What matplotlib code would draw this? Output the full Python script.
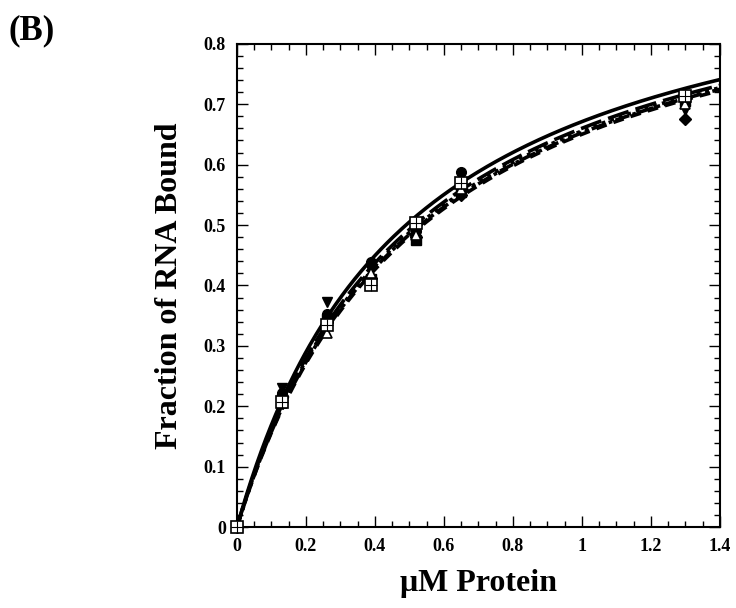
import matplotlib
matplotlib.use('Agg')
import matplotlib.pyplot as plt
from matplotlib.ticker import MultipleLocator
import numpy as np

plt.rcParams['font.family'] = ['Liberation Serif', 'DejaVu Serif']
plt.rcParams['font.weight'] = 'bold'

# protein concentration (uM)
conc = [0, 0.13, 0.26, 0.39, 0.52, 0.65, 1.3]

# fraction of RNA bound, one list per data set
circ = [0, 0.222, 0.352, 0.438, 0.490, 0.587, 0.710]
tri_dn = [0, 0.230, 0.373, 0.425, 0.495, 0.560, 0.690]
sq_cross = [0, 0.207, 0.335, 0.400, 0.504, 0.570, 0.713]
diam = [0, 0.215, 0.340, 0.413, 0.480, 0.550, 0.675]
tri_up = [0, 0.205, 0.322, 0.420, 0.484, 0.560, 0.700]
sq = [0, 0.212, 0.345, 0.410, 0.476, 0.555, 0.705]

# hyperbolic fit parameters (Bmax, Kd) for each curve
bmax = [1.0, 1.0, 1.0, 1.0, 1.0]
kd = [0.49, 0.515, 0.525, 0.532, 0.538]
styles = ['-', (0, (6, 2)), (0, (1, 1.5)), (0, (4, 1, 1, 1)), (0, (3, 2))]

fig = plt.figure(figsize=(7.36, 6.08), dpi=100)
ax = fig.add_axes([0.322, 0.133, 0.656, 0.795])

xf = np.linspace(0, 1.4, 300)
for b, k, ls in zip(bmax, kd, styles):
    ax.plot(xf, b * xf / (k + xf), color='k', lw=2.6, ls=ls, zorder=2)

ax.plot(conc, circ, 'o', color='k', ms=7, zorder=3, clip_on=False)
ax.plot(conc, tri_dn, 'v', color='k', ms=7, zorder=3, clip_on=False)
ax.plot(conc, diam, 'D', color='k', ms=6, zorder=3, clip_on=False)
ax.plot(conc, sq, 's', color='k', ms=6.5, zorder=3, clip_on=False)
ax.plot(conc, tri_up, '^', mfc='white', mec='k', mew=1.2, ms=7, zorder=4, clip_on=False)
ax.plot(conc, sq_cross, 's', mfc='white', mec='k', mew=1.2, ms=8, zorder=5, clip_on=False)
ax.plot(conc, sq_cross, '+', color='k', mew=0.8, ms=8, zorder=6, clip_on=False)

ax.set_xlim(0, 1.4)
ax.set_ylim(0, 0.8)
ax.xaxis.set_minor_locator(MultipleLocator(0.05))
ax.yaxis.set_minor_locator(MultipleLocator(0.02))
ax.set_xticks(np.arange(0, 1.41, 0.2))
ax.set_xticklabels(['0', '0.2', '0.4', '0.6', '0.8', '1', '1.2', '1.4'])
ax.set_yticks(np.arange(0, 0.81, 0.1))
ax.set_yticklabels(['0', '0.1', '0.2', '0.3', '0.4', '0.5', '0.6', '0.7', '0.8'])
ax.tick_params(which='both', direction='in', top=True, right=True, labelsize=13, width=1)
ax.tick_params(which='major', length=8, pad=8)
ax.tick_params(which='minor', length=4)
for s in ax.spines.values():
    s.set_linewidth(1.5)
for lab in ax.get_xticklabels() + ax.get_yticklabels():
    lab.set_fontweight('bold')

ax.set_xlabel('\u03bcM Protein', fontsize=23, fontweight='bold', labelpad=10)
ax.set_ylabel('Fraction of RNA Bound', fontsize=23, fontweight='bold', labelpad=14)
fig.text(0.012, 0.935, '(B)', fontsize=25, fontweight='bold')

fig.savefig('out.png', dpi=100)
